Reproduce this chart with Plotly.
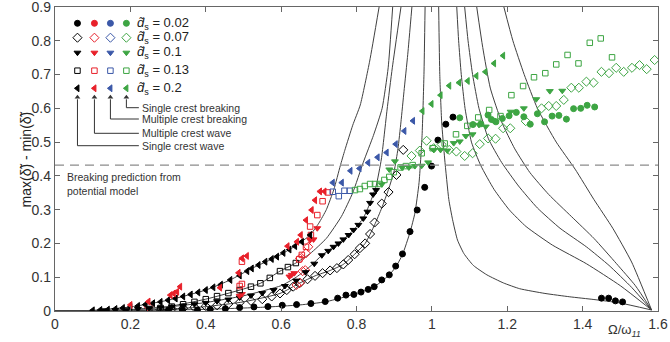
import plotly.graph_objects as go

# ---------------- axes ----------------
x_ticks = [0, 0.2, 0.4, 0.6, 0.8, 1.0, 1.2, 1.4, 1.6]
x_tick_labels = ["0", "0.2", "0.4", "0.6", "0.8", "1", "1.2", "1.4", "1.6"]
y_ticks = [0, 0.1, 0.2, 0.3, 0.4, 0.5, 0.6, 0.7, 0.8, 0.9]
y_tick_labels = ["0", "0.1", "0.2", "0.3", "0.4", "0.5", "0.6", "0.7", "0.8", "0.9"]
breaking_level = 0.432

# ---------------- theoretical response curves ----------------
l1_x = [0, 0.2, 0.4, 0.55, 0.65, 0.717, 0.77, 0.812, 0.847, 0.867, 0.887, 0.904, 0.922, 0.942, 0.955, 0.966, 0.974, 0.979, 0.982]
l1_y = [0, 0.001, 0.005, 0.011, 0.018, 0.027, 0.042, 0.056, 0.072, 0.088, 0.107, 0.13, 0.167, 0.233, 0.29, 0.38, 0.52, 0.7, 0.9]
l2_x = [0, 0.1, 0.2, 0.3, 0.4, 0.5, 0.597, 0.65, 0.69, 0.73, 0.765, 0.795, 0.823, 0.848, 0.867, 0.885, 0.9, 0.91, 0.918, 0.926, 0.936, 0.947]
l2_y = [0, 0.0005, 0.002, 0.005, 0.013, 0.027, 0.052, 0.083, 0.104, 0.12, 0.138, 0.168, 0.2, 0.255, 0.305, 0.36, 0.415, 0.48, 0.56, 0.65, 0.76, 0.9]
l3_x = [0, 0.1, 0.2, 0.3, 0.4, 0.5, 0.6, 0.64, 0.68, 0.708, 0.739, 0.765, 0.792, 0.818, 0.836, 0.852, 0.866, 0.881, 0.895, 0.918]
l3_y = [0, 0.001, 0.004, 0.012, 0.025, 0.045, 0.075, 0.1, 0.135, 0.165, 0.19, 0.212, 0.24, 0.275, 0.32, 0.37, 0.45, 0.595, 0.72, 0.9]
l4_x = [0, 0.1, 0.2, 0.3, 0.4, 0.5, 0.545, 0.597, 0.639, 0.677, 0.72, 0.76, 0.79, 0.818, 0.845, 0.868, 0.884, 0.896]
l4_y = [0, 0.001, 0.004, 0.013, 0.035, 0.065, 0.082, 0.118, 0.142, 0.17, 0.215, 0.28, 0.35, 0.44, 0.52, 0.6, 0.72, 0.9]
l5_x = [0, 0.1, 0.2, 0.3, 0.4, 0.465, 0.522, 0.589, 0.637, 0.677, 0.70, 0.72, 0.74, 0.757, 0.769, 0.79, 0.81, 0.835, 0.86]
l5_y = [0, 0.002, 0.012, 0.032, 0.062, 0.092, 0.126, 0.161, 0.192, 0.225, 0.26, 0.3, 0.36, 0.43, 0.476, 0.55, 0.61, 0.74, 0.9]

r1_x = [1.018, 1.021, 1.026, 1.034, 1.045, 1.055, 1.068, 1.085, 1.11, 1.146, 1.19, 1.233, 1.30, 1.366, 1.43, 1.498, 1.583]
r1_y = [0.9, 0.7, 0.56, 0.45, 0.33, 0.27, 0.21, 0.17, 0.135, 0.107, 0.083, 0.066, 0.052, 0.042, 0.034, 0.024, 0.003]
r2_x = [1.066, 1.071, 1.078, 1.088, 1.105, 1.13, 1.165, 1.205, 1.25, 1.32, 1.41, 1.50, 1.583]
r2_y = [0.9, 0.8, 0.7, 0.6, 0.5, 0.43, 0.36, 0.30, 0.25, 0.195, 0.14, 0.075, 0.003]
r3_x = [1.087, 1.096, 1.108, 1.125, 1.15, 1.185, 1.23, 1.28, 1.34, 1.41, 1.47, 1.53, 1.583]
r3_y = [0.9, 0.8, 0.7, 0.6, 0.51, 0.44, 0.37, 0.305, 0.245, 0.19, 0.135, 0.07, 0.003]
r4_x = [1.119, 1.135, 1.155, 1.185, 1.22, 1.26, 1.31, 1.37, 1.43, 1.49, 1.54, 1.583]
r4_y = [0.9, 0.78, 0.66, 0.56, 0.48, 0.41, 0.345, 0.28, 0.215, 0.14, 0.075, 0.003]
r5_x = [1.191, 1.215, 1.245, 1.28, 1.33, 1.38, 1.43, 1.48, 1.53, 1.583]
r5_y = [0.9, 0.8, 0.7, 0.6, 0.5, 0.42, 0.33, 0.245, 0.145, 0.003]

# ---------------- measured data ----------------
# d_s = 0.02 (circles)
blk_circle_x = [0.301, 0.338, 0.378, 0.412, 0.452, 0.490, 0.528, 0.565, 0.603, 0.641, 0.679, 0.717, 0.750, 0.772, 0.793, 0.812, 0.831, 0.847, 0.867, 0.887, 0.904, 0.922, 0.942, 0.961, 0.981, 0.999, 1.016, 1.037, 1.056, 1.450, 1.469, 1.487, 1.506]
blk_circle_y = [0.003, 0.003, 0.003, 0.005, 0.007, 0.010, 0.012, 0.013, 0.017, 0.019, 0.022, 0.028, 0.038, 0.047, 0.049, 0.056, 0.064, 0.072, 0.092, 0.107, 0.133, 0.169, 0.235, 0.299, 0.366, 0.429, 0.506, 0.553, 0.574, 0.038, 0.038, 0.030, 0.027]
grn_circle_x = [1.074, 1.109, 1.130, 1.149, 1.158, 1.170, 1.187, 1.205, 1.224, 1.244, 1.261, 1.280, 1.299, 1.319, 1.337, 1.357, 1.376, 1.395, 1.412, 1.432]
grn_circle_y = [0.572, 0.552, 0.554, 0.580, 0.567, 0.560, 0.570, 0.578, 0.588, 0.575, 0.553, 0.584, 0.560, 0.577, 0.579, 0.568, 0.599, 0.600, 0.609, 0.604]

# d_s = 0.07 (diamonds)
blk_diamond_x = [0.28, 0.31, 0.34, 0.37, 0.40, 0.43, 0.46, 0.49, 0.52, 0.55, 0.575, 0.597, 0.615, 0.632, 0.65, 0.67, 0.69, 0.71, 0.73, 0.748, 0.765, 0.778, 0.795, 0.809, 0.823, 0.836, 0.848, 0.867, 0.885, 0.906, 0.924]
blk_diamond_y = [0.004, 0.006, 0.008, 0.011, 0.014, 0.017, 0.021, 0.025, 0.030, 0.035, 0.043, 0.052, 0.062, 0.072, 0.083, 0.094, 0.104, 0.112, 0.12, 0.127, 0.138, 0.151, 0.168, 0.186, 0.2, 0.228, 0.262, 0.318, 0.352, 0.403, 0.477]
red_diamond_x = [0.248, 0.641, 0.65, 0.657, 0.664, 0.65, 0.666, 0.672]
red_diamond_y = [0.013, 0.077, 0.084, 0.118, 0.121, 0.156, 0.171, 0.19]
grn_diamond_x = [0.946, 0.968, 0.986, 1.005, 1.026, 1.046, 1.065, 1.087, 1.108, 1.127, 1.149, 1.169, 1.189, 1.208, 1.249, 1.291, 1.310, 1.330, 1.350, 1.370, 1.390, 1.410, 1.429, 1.450, 1.470, 1.489, 1.509, 1.531, 1.551, 1.570, 1.591]
grn_diamond_y = [0.459, 0.475, 0.504, 0.482, 0.493, 0.477, 0.472, 0.459, 0.467, 0.494, 0.511, 0.510, 0.541, 0.541, 0.562, 0.600, 0.607, 0.607, 0.625, 0.661, 0.661, 0.679, 0.676, 0.708, 0.704, 0.720, 0.708, 0.720, 0.728, 0.716, 0.743]

# d_s = 0.1 (down triangles)
blk_tri_down_x = [0.13, 0.16, 0.19, 0.22, 0.25, 0.28, 0.31, 0.34, 0.37, 0.40, 0.43, 0.46, 0.49, 0.52, 0.55, 0.58, 0.61, 0.64, 0.665, 0.688, 0.708, 0.725, 0.739, 0.752, 0.765, 0.779, 0.792, 0.805, 0.818, 0.829, 0.836, 0.844, 0.852]
blk_tri_down_y = [0.002, 0.003, 0.004, 0.006, 0.008, 0.010, 0.013, 0.016, 0.020, 0.024, 0.029, 0.034, 0.040, 0.046, 0.053, 0.062, 0.074, 0.09, 0.115, 0.14, 0.165, 0.178, 0.19, 0.2, 0.212, 0.225, 0.24, 0.255, 0.274, 0.294, 0.32, 0.345, 0.358]
red_tri_down_x = [0.49, 0.496, 0.622, 0.628, 0.635, 0.677, 0.686, 0.696]
red_tri_down_y = [0.045, 0.05, 0.102, 0.107, 0.112, 0.21, 0.212, 0.245]
grn_tri_down_x = [0.867, 0.887, 0.902, 0.921, 0.939, 0.955, 0.973, 0.990, 1.005, 1.023, 1.041, 1.058, 1.074, 1.090, 1.108, 1.125, 1.143, 1.161, 1.209, 1.244, 1.277, 1.313, 1.346]
grn_tri_down_y = [0.375, 0.419, 0.443, 0.425, 0.425, 0.429, 0.430, 0.440, 0.477, 0.477, 0.475, 0.497, 0.502, 0.518, 0.523, 0.551, 0.546, 0.565, 0.590, 0.600, 0.627, 0.651, 0.652]

# d_s = 0.13 (squares)
blk_square_x = [0.25, 0.28, 0.31, 0.34, 0.37, 0.40, 0.43, 0.46, 0.49, 0.52, 0.545, 0.57, 0.597, 0.618, 0.639]
blk_square_y = [0.006, 0.009, 0.013, 0.02, 0.027, 0.035, 0.044, 0.053, 0.062, 0.072, 0.082, 0.098, 0.118, 0.13, 0.142]
red_square_x = [0.317, 0.49, 0.496, 0.496, 0.648, 0.655, 0.666, 0.677, 0.679, 0.696, 0.71, 0.724]
red_square_y = [0.047, 0.074, 0.08, 0.146, 0.153, 0.166, 0.19, 0.25, 0.225, 0.284, 0.325, 0.351]
blu_square_x = [0.737, 0.753, 0.768, 0.782]
blu_square_y = [0.353, 0.340, 0.356, 0.356]
grn_square_x = [0.796, 0.809, 0.822, 0.836, 0.849, 0.862, 0.874, 0.887, 0.899, 0.917, 0.931, 0.949, 0.973, 1.002, 1.034, 1.064, 1.094, 1.123, 1.152, 1.182, 1.211, 1.242, 1.271, 1.301, 1.330, 1.360, 1.389, 1.419, 1.448, 1.478]
grn_square_y = [0.358, 0.361, 0.370, 0.376, 0.376, 0.376, 0.388, 0.397, 0.411, 0.425, 0.429, 0.432, 0.467, 0.482, 0.496, 0.523, 0.548, 0.573, 0.595, 0.577, 0.639, 0.666, 0.692, 0.704, 0.730, 0.758, 0.733, 0.794, 0.807, 0.751]

# d_s = 0.2 (left triangles)
blk_tri_left_x = [0.10, 0.12, 0.14, 0.16, 0.18, 0.20, 0.22, 0.24, 0.26, 0.28, 0.30, 0.32, 0.34, 0.36, 0.38, 0.40, 0.42, 0.44, 0.465, 0.49, 0.51, 0.522, 0.54, 0.558, 0.575, 0.589, 0.606, 0.622, 0.637, 0.655, 0.677]
blk_tri_left_y = [0.002, 0.003, 0.004, 0.006, 0.009, 0.012, 0.015, 0.019, 0.023, 0.027, 0.032, 0.037, 0.043, 0.049, 0.055, 0.062, 0.07, 0.078, 0.092, 0.105, 0.118, 0.126, 0.136, 0.146, 0.154, 0.161, 0.172, 0.182, 0.192, 0.205, 0.225]
red_tri_left_x = [0.200, 0.248, 0.306, 0.315, 0.324, 0.332, 0.438, 0.487, 0.496, 0.509, 0.617, 0.642, 0.652, 0.666, 0.681, 0.690, 0.703, 0.715]
red_tri_left_y = [0.018, 0.028, 0.047, 0.052, 0.057, 0.072, 0.069, 0.113, 0.156, 0.163, 0.192, 0.205, 0.225, 0.269, 0.299, 0.328, 0.354, 0.354]
blu_tri_left_x = [0.737, 0.761, 0.784, 0.808, 0.831, 0.856, 0.880, 0.904, 0.927, 0.950]
blu_tri_left_y = [0.380, 0.380, 0.415, 0.422, 0.439, 0.455, 0.469, 0.494, 0.533, 0.563]
grn_tri_left_x = [0.975, 0.999, 1.023, 1.046, 1.072, 1.095, 1.118, 1.142, 1.165, 1.189]
grn_tri_left_y = [0.592, 0.613, 0.639, 0.667, 0.676, 0.681, 0.696, 0.708, 0.733, 0.756]

# ---------------- legend content ----------------
legend_labels = ["<i>d\u0303</i><sub>s</sub> = 0.02", "<i>d\u0303</i><sub>s</sub> = 0.07",
                 "<i>d\u0303</i><sub>s</sub> = 0.1", "<i>d\u0303</i><sub>s</sub> = 0.13",
                 "<i>d\u0303</i><sub>s</sub> = 0.2"]
regime_labels = ["Single crest wave", "Multiple crest wave", "Multiple crest breaking", "Single crest breaking"]

BLACK = "#000000"
RED = "#e8202a"
BLUE = "#3b58a8"
GREEN = "#3da543"
CURVE = "#404040"

symbols = ["circle", "diamond-open", "triangle-down", "square-open", "triangle-left"]
sizes = [6, 7, 6, 5.5, 6]
colors = [BLACK, RED, BLUE, GREEN]

fig = go.Figure()

for cx, cy in [(l1_x, l1_y), (l2_x, l2_y), (l3_x, l3_y), (l4_x, l4_y), (l5_x, l5_y),
               (r1_x, r1_y), (r2_x, r2_y), (r3_x, r3_y), (r4_x, r4_y), (r5_x, r5_y)]:
    fig.add_trace(go.Scatter(x=cx, y=cy, mode="lines",
                             line=dict(color=CURVE, width=1, shape="spline", smoothing=0.5),
                             hoverinfo="skip", showlegend=False))


def add_pts(x, y, color, sym_i):
    fig.add_trace(go.Scatter(
        x=x, y=y, mode="markers", showlegend=False,
        marker=dict(symbol=symbols[sym_i], size=sizes[sym_i], color=color,
                    line=dict(color=color, width=1))))


add_pts(blk_circle_x, blk_circle_y, BLACK, 0)
add_pts(grn_circle_x, grn_circle_y, GREEN, 0)
add_pts(blk_diamond_x, blk_diamond_y, BLACK, 1)
add_pts(red_diamond_x, red_diamond_y, RED, 1)
add_pts(grn_diamond_x, grn_diamond_y, GREEN, 1)
add_pts(blk_tri_down_x, blk_tri_down_y, BLACK, 2)
add_pts(red_tri_down_x, red_tri_down_y, RED, 2)
add_pts(grn_tri_down_x, grn_tri_down_y, GREEN, 2)
add_pts(blk_square_x, blk_square_y, BLACK, 3)
add_pts(red_square_x, red_square_y, RED, 3)
add_pts(blu_square_x, blu_square_y, BLUE, 3)
add_pts(grn_square_x, grn_square_y, GREEN, 3)
add_pts(blk_tri_left_x, blk_tri_left_y, BLACK, 4)
add_pts(red_tri_left_x, red_tri_left_y, RED, 4)
add_pts(blu_tri_left_x, blu_tri_left_y, BLUE, 4)
add_pts(grn_tri_left_x, grn_tri_left_y, GREEN, 4)

# ---------------- custom legend on a pixel-like overlay axis ----------------
col_x = [22.5, 39.5, 55.5, 71.5]
row_y = [287.7, 273.3, 258.3, 240.3, 222.7]
for r in range(5):
    for c in range(4):
        fig.add_trace(go.Scatter(
            x=[col_x[c]], y=[row_y[r]], xaxis="x2", yaxis="y2", mode="markers",
            showlegend=False, hoverinfo="skip",
            marker=dict(symbol=symbols[r], size=sizes[r], color=colors[c],
                        line=dict(color=colors[c], width=1))))
    fig.add_annotation(x=80.5, y=row_y[r], xref="x2", yref="y2", text=legend_labels[r],
                       showarrow=False, xanchor="left", yanchor="middle",
                       font=dict(size=13, color="#222"))

regime_y = [165.3, 177.7, 192.0, 203.3]
arrow_head_y = 213.7
for c in range(4):
    fig.add_shape(type="line", xref="x2", yref="y2", x0=col_x[c], x1=col_x[c],
                  y0=regime_y[c], y1=arrow_head_y - 2, line=dict(color="#333", width=1))
    fig.add_shape(type="line", xref="x2", yref="y2", x0=col_x[c], x1=84,
                  y0=regime_y[c], y1=regime_y[c], line=dict(color="#333", width=1))
    fig.add_annotation(x=85.5, y=regime_y[c], xref="x2", yref="y2", text=regime_labels[c],
                       showarrow=False, xanchor="left", yanchor="middle",
                       font=dict(size=10.5, color="#333"))
fig.add_trace(go.Scatter(x=col_x, y=[arrow_head_y] * 4, xaxis="x2", yaxis="y2", mode="markers",
                         showlegend=False, hoverinfo="skip",
                         marker=dict(symbol="triangle-up", size=5, color="#333")))

# breaking prediction line
fig.add_shape(type="line", xref="paper", yref="y", x0=0, x1=1, y0=breaking_level, y1=breaking_level,
              line=dict(color="#8c8c8c", width=1.2, dash="9px,6px"))
fig.add_annotation(xref="paper", yref="paper", x=0.016, y=0.466, xanchor="left", yanchor="top",
                   align="left", showarrow=False,
                   text="Breaking prediction from<br>potential model",
                   font=dict(size=10.5, color="#333"))

# axis titles
fig.add_annotation(xref="paper", yref="paper", x=-0.064, y=0.5, textangle=-90,
                   showarrow=False, text="max(\u03b4\u0303) - min(\u03b4\u0303)",
                   font=dict(size=14, color="#222"))
fig.add_annotation(xref="paper", yref="paper", x=0.945, y=-0.063, showarrow=False,
                   xanchor="center", yanchor="middle",
                   text="\u03a9/\u03c9<sub><i>11</i></sub>",
                   font=dict(size=13, color="#333"))

axis_common = dict(showgrid=False, zeroline=False, ticks="inside", ticklen=5,
                   tickcolor="#666", linecolor="#666", linewidth=1.3, mirror="ticks",
                   showline=True, automargin=False, ticklabeloverflow="allow",
                   tickfont=dict(size=14, color="#333"))

fig.update_layout(
    width=670, height=342,
    margin=dict(l=54.5, r=11.5, t=7, b=31, autoexpand=False),
    paper_bgcolor="white", plot_bgcolor="white",
    font=dict(family="Arial, Liberation Sans, sans-serif"),
    showlegend=False,
    xaxis=dict(range=[0, 1.6], tickvals=x_ticks, ticktext=x_tick_labels, **axis_common),
    yaxis=dict(range=[0, 0.9], tickvals=y_ticks, ticktext=y_tick_labels, **axis_common),
    xaxis2=dict(overlaying="x", range=[0, 604], visible=False, automargin=False),
    yaxis2=dict(overlaying="y", range=[0, 304], visible=False, automargin=False),
)

fig.write_html("out.html", config={"displayModeBar": False},
               post_script="document.body.style.margin='0';")
